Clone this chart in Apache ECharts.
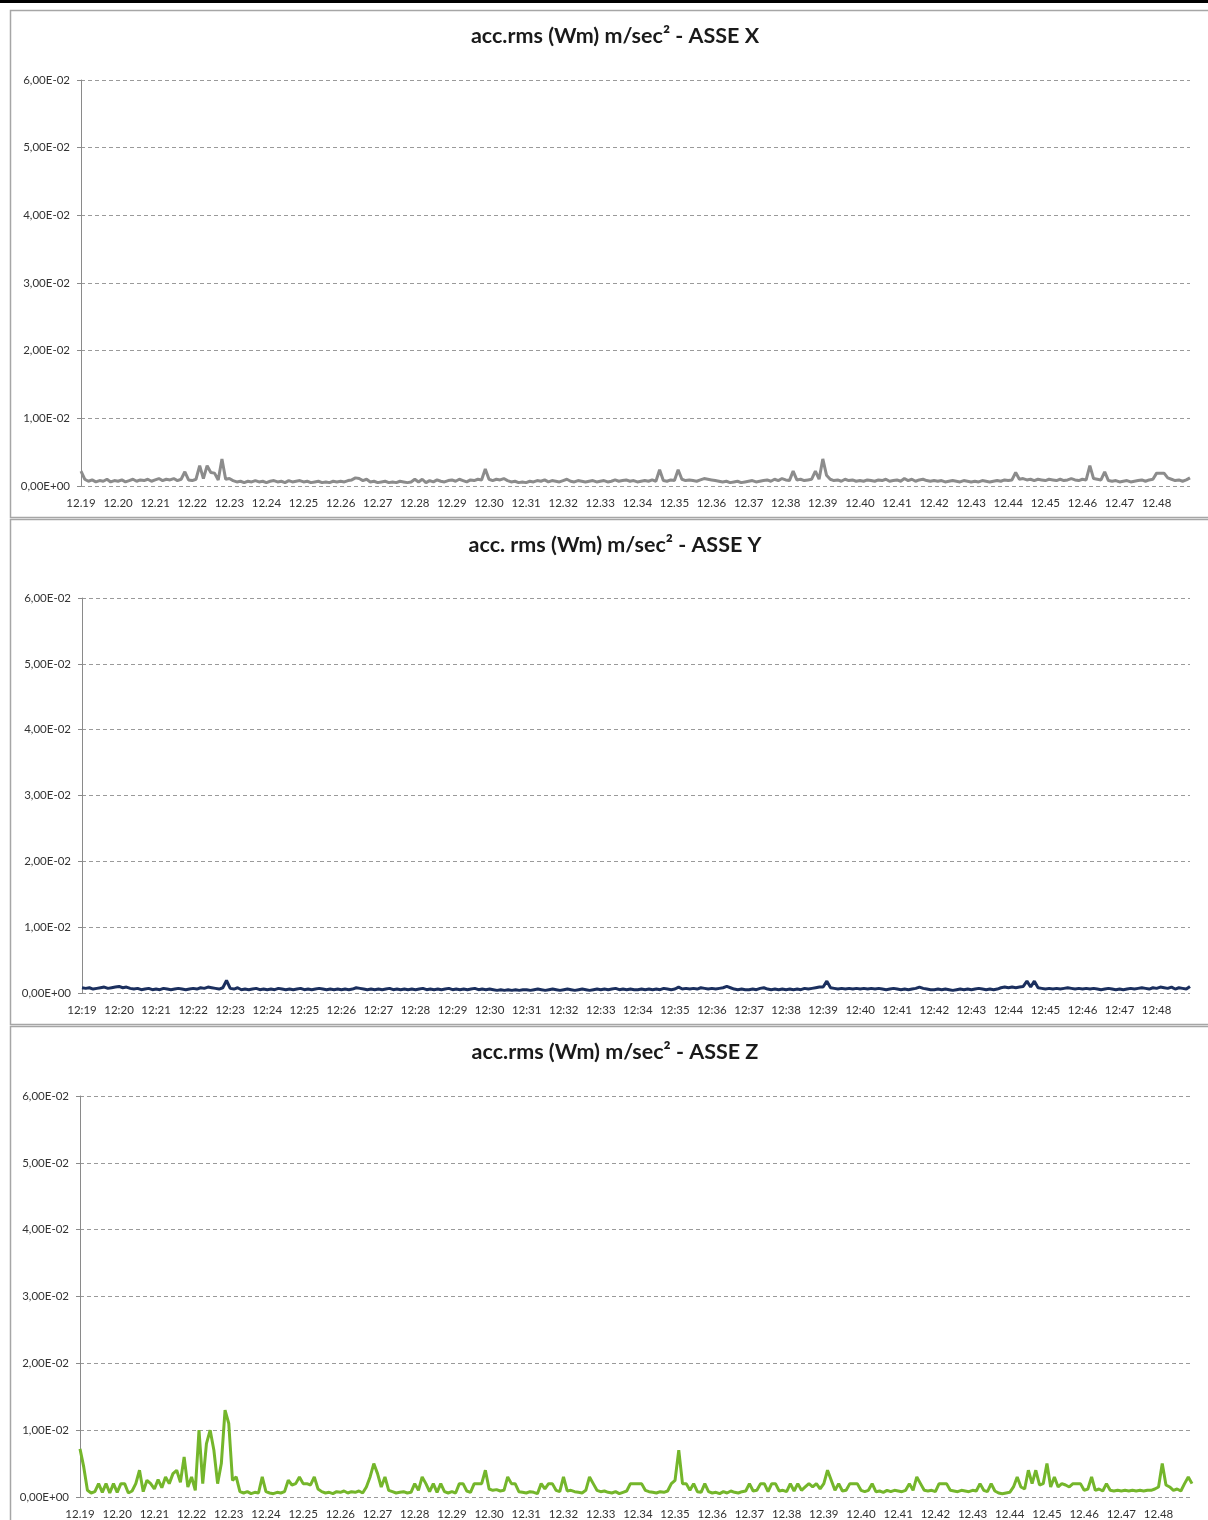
<!DOCTYPE html>
<html>
<head>
<meta charset="utf-8">
<title>acc.rms (Wm)</title>
<script src="https://cdn.jsdelivr.net/npm/echarts@6/dist/echarts.min.js"></script>
<style>
  html, body { margin: 0; padding: 0; background: #fff; }
  #main { width: 1208px; height: 1520px; }
</style>
</head>
<body>
<div id="main"></div>
<script>
// etichette dei minuti (asse categorie), 10 campioni per minuto
var minutiPunto = ['12.19', '12.20', '12.21', '12.22', '12.23', '12.24', '12.25', '12.26', '12.27', '12.28',
  '12.29', '12.30', '12.31', '12.32', '12.33', '12.34', '12.35', '12.36', '12.37', '12.38',
  '12.39', '12.40', '12.41', '12.42', '12.43', '12.44', '12.45', '12.46', '12.47', '12.48']
var minutiDuePunti = ['12:19', '12:20', '12:21', '12:22', '12:23', '12:24', '12:25', '12:26', '12:27', '12:28',
  '12:29', '12:30', '12:31', '12:32', '12:33', '12:34', '12:35', '12:36', '12:37', '12:38',
  '12:39', '12:40', '12:41', '12:42', '12:43', '12:44', '12:45', '12:46', '12:47', '12:48']
var campioniPerMinuto = 10

// etichette asse Y (m/sec^2)
var yTicks = [0, 0.01, 0.02, 0.03, 0.04, 0.05, 0.06]

// valori in millesimi di m/sec^2 (1 riga = 1 minuto)
var asseX = [
  2.2, 1.0, 0.7, 0.9, 0.6, 0.8, 0.7, 1.0, 0.6, 0.8,
  0.7, 0.9, 0.6, 0.8, 1.0, 0.7, 0.9, 0.8, 1.0, 0.7,
  0.9, 1.1, 0.8, 1.0, 0.9, 1.1, 0.8, 1.0, 2.1, 0.9,
  0.8, 1.0, 3.0, 1.1, 3.0, 2.0, 1.9, 0.9, 4.0, 1.0,
  1.1, 0.8, 0.6, 0.7, 0.5, 0.7, 0.6, 0.8, 0.6, 0.7,
  0.5, 0.7, 0.8, 0.6, 0.7, 0.5, 0.8, 0.6, 0.7, 0.8,
  0.6, 0.7, 0.5, 0.6, 0.7, 0.5, 0.6, 0.5, 0.7, 0.6,
  0.7, 0.6, 0.8, 0.9, 1.2, 1.1, 0.8, 1.0, 0.6, 0.7,
  0.5, 0.6, 0.7, 0.5, 0.6, 0.5, 0.7, 0.6, 0.5, 0.6,
  1.0, 0.6, 1.0, 0.5, 0.8, 0.6, 0.9, 0.7, 0.6, 0.8,
  0.9, 0.7, 1.0, 0.8, 0.6, 0.9, 0.8, 1.0, 0.9, 2.5,
  1.0, 0.8, 1.0, 0.9, 1.1, 0.8, 0.6, 0.7, 0.5, 0.6,
  0.5, 0.7, 0.6, 0.8, 0.7, 0.9, 0.6, 0.8, 0.7, 0.6,
  0.8, 1.0, 0.7, 0.6, 0.8, 0.7, 0.6, 0.7, 0.8, 0.6,
  0.7, 0.8, 0.6, 0.7, 0.9, 0.7, 0.8, 0.9, 0.7, 0.8,
  0.6, 0.7, 0.8, 0.7, 0.9, 0.7, 2.4, 0.8, 0.7, 0.9,
  0.8, 2.4, 1.0, 0.8, 0.9, 0.8, 0.7, 0.9, 1.1, 1.0,
  0.9, 0.8, 0.7, 0.6, 0.7, 0.5, 0.6, 0.7, 0.5, 0.6,
  0.7, 0.8, 0.6, 0.7, 0.8, 0.9, 0.7, 1.0, 0.8, 1.1,
  0.9, 0.8, 2.2, 0.9, 1.0, 0.8, 0.9, 1.0, 2.2, 1.0,
  4.0, 1.6, 1.0, 0.8, 0.9, 0.7, 1.0, 0.8, 0.9, 0.7,
  0.8, 0.7, 0.9, 0.8, 0.7, 0.9, 0.8, 1.0, 0.7, 0.8,
  0.9, 0.7, 1.1, 0.8, 1.0, 0.7, 0.9, 1.0, 0.8, 0.7,
  0.8, 0.7, 0.8, 0.6, 0.7, 0.8, 0.7, 0.6, 0.8, 0.7,
  0.6, 0.7, 0.6, 0.8, 0.7, 0.6, 0.7, 0.8, 0.7, 0.9,
  0.8, 0.9, 2.0, 1.0, 1.1, 0.9, 1.0, 0.8, 1.0, 0.9,
  0.8, 1.0, 0.9, 0.8, 1.0, 0.8, 0.9, 1.1, 0.9, 0.8,
  1.0, 0.9, 3.0, 1.1, 1.0, 0.9, 2.1, 0.8, 0.7, 0.8,
  0.6, 0.7, 0.8, 0.6, 0.7, 0.8, 0.9, 0.7, 0.9, 1.0,
  1.9, 1.9, 1.9, 1.2, 1.0, 0.8, 0.9, 0.7, 0.9, 1.2
]
var asseY = [
  0.8, 0.7, 0.8, 0.6, 0.7, 0.8, 0.9, 0.7, 0.8, 0.9,
  1.0, 0.8, 0.9, 0.7, 0.6, 0.7, 0.5, 0.6, 0.7, 0.5,
  0.6, 0.5, 0.7, 0.6, 0.5, 0.6, 0.7, 0.6, 0.5, 0.6,
  0.7, 0.6, 0.8, 0.7, 0.9, 0.8, 0.7, 0.6, 0.8, 1.9,
  0.7, 0.6, 0.8, 0.5, 0.6, 0.5, 0.6, 0.7, 0.5, 0.6,
  0.5, 0.6, 0.5, 0.7, 0.6, 0.5, 0.6, 0.5, 0.6, 0.7,
  0.5, 0.6, 0.5, 0.6, 0.7, 0.6, 0.5, 0.6, 0.5, 0.6,
  0.5, 0.6, 0.5, 0.6, 0.8, 0.7, 0.6, 0.5, 0.6, 0.5,
  0.6, 0.5, 0.6, 0.7, 0.5, 0.6, 0.5, 0.6, 0.5, 0.6,
  0.5, 0.6, 0.7, 0.5, 0.6, 0.5, 0.6, 0.5, 0.6, 0.7,
  0.5, 0.6, 0.5, 0.6, 0.5, 0.6, 0.7, 0.5, 0.6, 0.5,
  0.6, 0.5, 0.4, 0.5, 0.4, 0.5, 0.4, 0.5, 0.4, 0.5,
  0.5, 0.4, 0.5, 0.6, 0.5, 0.4, 0.5, 0.6, 0.5, 0.4,
  0.5, 0.6, 0.5, 0.4, 0.5, 0.6, 0.5, 0.4, 0.5, 0.6,
  0.5, 0.6, 0.5, 0.6, 0.7, 0.5, 0.6, 0.5, 0.6, 0.5,
  0.5, 0.6, 0.5, 0.6, 0.5, 0.6, 0.5, 0.7, 0.6, 0.5,
  0.6, 0.9, 0.6, 0.7, 0.6, 0.7, 0.6, 0.8, 0.7, 0.6,
  0.7, 0.6, 0.7, 0.8, 1.0, 0.8, 0.6, 0.5, 0.6, 0.5,
  0.5, 0.6, 0.5, 0.7, 0.8, 0.6, 0.5, 0.6, 0.5, 0.6,
  0.5, 0.6, 0.5, 0.6, 0.5, 0.7, 0.6, 0.7, 0.8, 0.9,
  0.9, 1.8, 0.8, 0.7, 0.6, 0.7, 0.6, 0.7, 0.6, 0.7,
  0.6, 0.7, 0.6, 0.7, 0.6, 0.7, 0.6, 0.5, 0.6, 0.7,
  0.6, 0.5, 0.6, 0.5, 0.6, 0.7, 0.9, 0.7, 0.6, 0.5,
  0.5, 0.6, 0.5, 0.6, 0.5, 0.4, 0.5, 0.6, 0.5, 0.6,
  0.5, 0.6, 0.7, 0.6, 0.5, 0.6, 0.5, 0.6, 0.8, 0.9,
  0.8, 0.9, 0.8, 0.9, 1.0, 1.8, 0.9, 1.8, 0.8, 0.7,
  0.6, 0.7, 0.6, 0.7, 0.6, 0.7, 0.8, 0.7, 0.6, 0.7,
  0.6, 0.7, 0.6, 0.7, 0.6, 0.5, 0.6, 0.7, 0.6, 0.5,
  0.6, 0.5, 0.6, 0.7, 0.6, 0.7, 0.8, 0.7, 0.6, 0.8,
  0.7, 0.9, 0.8, 0.7, 0.9, 0.6, 0.8, 0.7, 0.6, 1.0
]
var asseZ = [
  7.2, 4.5, 1.0, 0.6, 0.8, 2.0, 0.7, 2.0, 0.6, 2.0,
  0.7, 2.0, 2.0, 0.6, 0.9, 2.0, 4.0, 0.8, 2.5, 2.0,
  1.2, 2.6, 1.4, 3.0, 2.0, 3.5, 4.0, 2.2, 6.0, 1.5,
  3.0, 1.0, 10.0, 2.0, 8.0, 10.0, 7.0, 2.0, 5.0, 13.0,
  11.0, 2.5, 3.0, 0.8, 0.6, 0.8, 0.5, 0.7, 0.6, 3.0,
  0.8, 0.6, 0.5, 0.7, 0.6, 0.8, 2.5, 1.8, 2.0, 3.0,
  2.0, 2.0, 1.8, 3.0, 1.2, 0.8, 0.6, 0.7, 0.5, 0.8,
  0.7, 0.9, 0.6, 0.8, 0.7, 0.9, 0.6, 1.5, 3.0, 5.0,
  3.5, 1.5, 3.0, 1.0, 0.8, 0.6, 0.7, 0.8, 0.6, 0.7,
  2.0, 1.0, 3.0, 2.0, 0.8, 2.0, 0.7, 2.0, 0.8, 0.6,
  0.8, 0.6, 2.0, 2.0, 0.9, 0.7, 2.0, 2.0, 2.0, 4.0,
  1.2, 1.0, 1.1, 0.9, 1.0, 3.0, 2.0, 2.0, 0.8, 0.7,
  0.6, 0.8, 0.7, 0.5, 2.0, 1.2, 2.0, 2.0, 1.0, 0.8,
  3.0, 0.9, 1.0, 0.8, 0.7, 0.6, 1.0, 3.0, 2.0, 1.0,
  0.8, 0.9, 0.7, 0.6, 0.8, 0.5, 0.7, 0.9, 2.0, 2.0,
  2.0, 2.0, 1.0, 0.8, 0.7, 0.6, 0.8, 0.7, 0.9, 2.0,
  2.5, 7.0, 2.0, 2.0, 1.0, 2.0, 0.8, 0.7, 2.0, 0.8,
  0.6, 0.7, 0.5, 0.8, 0.6, 0.9, 0.7, 0.6, 0.8, 0.9,
  2.0, 0.9, 1.0, 2.0, 2.0, 0.8, 2.0, 2.0, 0.9, 1.0,
  0.8, 2.0, 0.9, 2.0, 1.0, 1.5, 2.0, 1.5, 2.0, 1.2,
  2.0, 4.0, 2.5, 1.0, 2.0, 0.9, 1.0, 2.0, 2.0, 2.0,
  1.0, 0.8, 1.0, 2.0, 0.8, 0.9, 0.7, 1.0, 0.8, 1.0,
  0.9, 0.8, 1.0, 2.0, 1.0, 3.0, 2.0, 1.0, 0.9, 1.0,
  0.8, 2.0, 2.0, 2.0, 1.0, 0.9, 0.8, 1.0, 0.9, 0.8,
  1.0, 0.9, 2.0, 1.0, 0.8, 2.0, 0.9, 0.6, 0.5, 0.6,
  0.7, 1.5, 3.0, 1.5, 1.2, 4.0, 2.0, 4.0, 1.8, 2.0,
  5.0, 1.5, 3.0, 1.5, 2.0, 1.8, 1.5, 2.0, 2.0, 2.0,
  1.0, 1.2, 3.0, 1.0, 1.2, 0.9, 2.0, 1.0, 0.9, 1.0,
  0.9, 1.0, 0.9, 1.0, 0.9, 1.0, 0.9, 1.0, 1.0, 1.2,
  1.5, 5.0, 1.8, 1.5, 1.0, 1.2, 0.9, 2.0, 3.0, 2.0
]

var chart = echarts.init(document.getElementById('main'))

// categorie: etichetta solo sul primo campione di ogni minuto
function categorie(ticks) {
  var out = []
  for (var i = 0; i < ticks.length * campioniPerMinuto; i++) {
    out.push(i % campioniPerMinuto === 0 ? ticks[i / campioniPerMinuto] : '')
  }
  return out
}

// formato Excel "6,00E-02"
function formatoE(v) {
  var s = Number(v).toExponential(2).split('e')
  var e = parseInt(s[1], 10)
  return s[0].replace('.', ',') + 'E' + (e < 0 ? '-' : '+') + String(Math.abs(e)).padStart(2, '0')
}

var pannelli = [
  { titolo: 'acc.rms (Wm) m/sec² - ASSE X', top: 80, left: 81, width: 1109, height: 406, titleTop: 20, ticks: minutiPunto, dati: asseX, colore: '#8c8c8c' },
  { titolo: 'acc. rms (Wm) m/sec² - ASSE Y', top: 598, left: 82, width: 1108, height: 395, titleTop: 529, ticks: minutiDuePunti, dati: asseY, colore: '#1b2f5e' },
  { titolo: 'acc.rms (Wm) m/sec² - ASSE Z', top: 1096, left: 80, width: 1112, height: 401, titleTop: 1036, ticks: minutiPunto, dati: asseZ, colore: '#74b62b' }
]

var font = 'Lato, "Liberation Sans", sans-serif'

chart.setOption({
  animation: false,
  backgroundColor: '#fff',
  title: pannelli.map(function(p) {
    return {
      text: p.titolo,
      left: 610,
      textAlign: 'center',
      top: p.titleTop,
      textStyle: { fontFamily: font, fontSize: 21.5, fontWeight: 'bold', color: '#1a1a1a' }
    }
  }),
  grid: pannelli.map(function(p) {
    return { left: p.left, top: p.top, width: p.width, height: p.height, containLabel: false }
  }),
  xAxis: pannelli.map(function(p, i) {
    return {
      type: 'category',
      gridIndex: i,
      data: categorie(p.ticks),
      boundaryGap: false,
      axisLine: { show: false },
      axisTick: { show: false },
      axisLabel: { interval: campioniPerMinuto - 1, margin: 11, fontFamily: font, fontSize: 11.5, color: '#333' },
      splitLine: { show: false }
    }
  }),
  yAxis: pannelli.map(function(p, i) {
    return {
      type: 'value',
      gridIndex: i,
      min: yTicks[0],
      max: yTicks[yTicks.length - 1],
      interval: yTicks[1] - yTicks[0],
      axisLine: { show: true, lineStyle: { color: '#8a8a8a', width: 1 } },
      axisTick: { show: true, length: 4, lineStyle: { color: '#8a8a8a' } },
      axisLabel: { margin: 11, fontFamily: font, fontSize: 11.5, color: '#333', formatter: formatoE },
      splitLine: { show: true, lineStyle: { color: '#9a9a9a', type: [4, 3], width: 1 } }
    }
  }),
  series: pannelli.map(function(p, i) {
    return {
      type: 'line',
      xAxisIndex: i,
      yAxisIndex: i,
      symbol: 'none',
      data: p.dati.map(function(v) { return v / 1000 }),
      lineStyle: { color: p.colore, width: 3 },
      z: 3
    }
  }),
  // cornici dei tre riquadri
  graphic: [
    { type: 'rect', shape: { x: 0, y: 0, width: 1208, height: 3 }, style: { fill: '#000' } },
    { type: 'rect', shape: { x: 10.5, y: 10.5, width: 1200, height: 507 }, style: { fill: null, stroke: '#a6a6a6', lineWidth: 1.5 } },
    { type: 'rect', shape: { x: 10.5, y: 519.5, width: 1200, height: 505 }, style: { fill: null, stroke: '#a6a6a6', lineWidth: 1.5 } },
    { type: 'rect', shape: { x: 10.5, y: 1026.5, width: 1200, height: 500 }, style: { fill: null, stroke: '#a6a6a6', lineWidth: 1.5 } }
  ]
})
</script>
</body>
</html>
